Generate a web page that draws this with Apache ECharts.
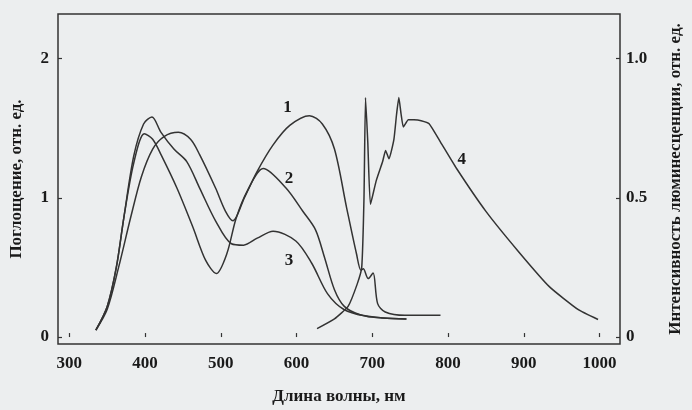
<!DOCTYPE html>
<html>
<head>
<meta charset="utf-8">
<script src="https://cdn.jsdelivr.net/npm/echarts@6/dist/echarts.min.js"></script>
<style>
html,body{margin:0;padding:0;background:#eceeef;}
#c{width:692px;height:410px;}
</style>
</head>
<body>
<div id="c"></div>
<script>
// X ticks and axis labels
const xTicks = [300, 400, 500, 600, 700, 800, 900, 1000];
const leftTicks = [0, 1, 2];
const rightTicks = [0, 0.5, 1.0];

// Curve 1 (absorption)
const curve1X = [335,350,365,381,395,410,425,444,460,472,493,506,516,531,548,569,591,617,634,650,666,679,685,688,694.6,701,707,717,743,790];
const curve1Y = [0.05,0.2,0.5,0.86,1.15,1.35,1.44,1.47,1.42,1.31,1.07,0.905,0.835,1.0,1.19,1.38,1.52,1.59,1.53,1.35,0.93,0.6,0.48,0.49,0.42,0.46,0.24,0.18,0.156,0.156];
// Curve 2 (absorption)
const curve2X = [335,350,362,372,385,399,410,421,442,463,480,494,508,520,535,556,586,608,625,637,650,663,684,714,745];
const curve2Y = [0.05,0.22,0.5,0.86,1.25,1.46,1.42,1.31,1.07,0.79,0.55,0.456,0.6,0.85,1.05,1.21,1.07,0.905,0.77,0.57,0.34,0.22,0.16,0.137,0.13];
// Curve 3 (absorption)
const curve3X = [335,350,362,372,385,398,409,421,438,455,472,493,514,530,548,569,599,620,641,663,692,714,745];
const curve3Y = [0.05,0.22,0.5,0.86,1.3,1.53,1.58,1.47,1.35,1.26,1.07,0.835,0.67,0.66,0.71,0.76,0.69,0.53,0.31,0.196,0.149,0.137,0.13];
// Curve 4 (luminescence, right axis)
const curve4X = [627,650,668,680,686,689,691,694,697.5,705,713.6,717.5,722,728.5,732,735,738,741,747.6,755,764.5,775,790,811,849.5,892,934,972,998];
const curve4Y = [0.03,0.065,0.11,0.19,0.25,0.5,0.86,0.7,0.476,0.56,0.63,0.67,0.64,0.71,0.8,0.86,0.8,0.754,0.78,0.78,0.777,0.766,0.70,0.606,0.453,0.31,0.18,0.098,0.063];

// Curve labels
const curveLabels = ['1', '2', '3', '4'];
const labelPos = [[588, 1.65], [590, 1.14], [590, 0.55], [818, 0.636]];

const zip = (xs, ys) => xs.map((x, i) => [x, ys[i]]);

const font = 'Liberation Serif';
const lineColor = '#333333';

function mkSeries(name, xs, ys, axisIdx, idx, smooth) {
  return {
    name: name,
    type: 'line',
    yAxisIndex: axisIdx,
    data: zip(xs, ys),
    showSymbol: false,
    smooth: smooth,
    lineStyle: {color: lineColor, width: 1.5},
    silent: true,
    markPoint: {
      symbol: 'circle', symbolSize: 0,
      label: {show: true, position: 'inside', color: '#1a1a1a', fontFamily: font, fontWeight: 'bold', fontSize: 17, formatter: curveLabels[idx]},
      data: [{coord: labelPos[idx]}]
    }
  };
}

const chart = echarts.init(document.getElementById('c'));
chart.setOption({
  animation: false,
  backgroundColor: '#eceeef',
  grid: {left: 53, right: 56, top: 14, bottom: 62, show: true, borderColor: '#333', borderWidth: 1.5, backgroundColor: 'transparent'},
  xAxis: {
    type: 'value', min: 285, max: 1027,
    name: 'Длина волны, нм', nameLocation: 'middle', nameGap: 44,
    nameTextStyle: {fontFamily: font, fontWeight: 'bold', fontSize: 17, color: '#1a1a1a'},
    axisLine: {show: false},
    splitLine: {show: false},
    axisTick: {show: true, inside: true, length: 4, customValues: xTicks, lineStyle: {color: '#333', width: 1.2}},
    axisLabel: {customValues: xTicks, margin: 11, fontFamily: font, fontWeight: 'bold', fontSize: 17, color: '#1a1a1a',
      formatter: v => String(v)}
  },
  yAxis: [{
    type: 'value', min: -0.05, max: 2.32, position: 'left',
    name: 'Поглощение, отн. ед.', nameLocation: 'middle', nameGap: 33, nameRotate: 90,
    nameTextStyle: {fontFamily: font, fontWeight: 'bold', fontSize: 17, color: '#1a1a1a'},
    axisLine: {show: false},
    splitLine: {show: false},
    axisTick: {show: true, inside: true, length: 4, customValues: leftTicks, lineStyle: {color: '#333', width: 1.2}},
    axisLabel: {customValues: leftTicks, margin: 9, fontFamily: font, fontWeight: 'bold', fontSize: 17, color: '#1a1a1a'}
  }, {
    type: 'value', min: -0.025, max: 1.16, position: 'right',
    name: 'Интенсивность люминесценции, отн. ед.', nameLocation: 'middle', nameGap: 47, nameRotate: 90,
    nameTextStyle: {fontFamily: font, fontWeight: 'bold', fontSize: 17, color: '#1a1a1a'},
    axisLine: {show: false},
    splitLine: {show: false},
    axisTick: {show: true, inside: true, length: 4, customValues: rightTicks, lineStyle: {color: '#333', width: 1.2}},
    axisLabel: {customValues: rightTicks, margin: 6, fontFamily: font, fontWeight: 'bold', fontSize: 17, color: '#1a1a1a',
      formatter: v => (v === 0 ? '0' : v.toFixed(1))}
  }],
  series: [
    mkSeries('1', curve1X, curve1Y, 0, 0, 0.3),
    mkSeries('2', curve2X, curve2Y, 0, 1, 0.3),
    mkSeries('3', curve3X, curve3Y, 0, 2, 0.3),
    mkSeries('4', curve4X, curve4Y, 1, 3, 0.15)
  ]
});
</script>
</body>
</html>
